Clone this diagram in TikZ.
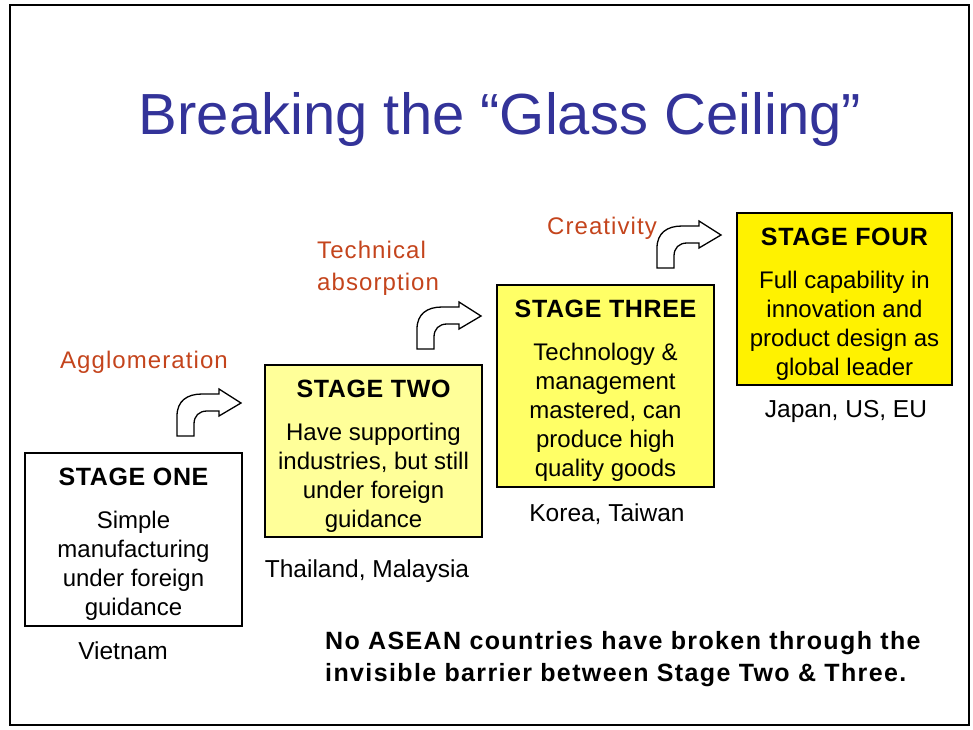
\documentclass[tikz,border=0pt]{standalone}
\usepackage{fontspec}
\setmainfont{Liberation Sans}
\newfontfamily\headsans[LetterSpace=2.5]{Liberation Sans}
\newfontfamily\widesans[LetterSpace=4.5]{Liberation Sans}
\newfontfamily\widersans[LetterSpace=5.5]{Liberation Sans}

\definecolor{titleblue}{HTML}{333399}
\definecolor{labelorange}{HTML}{C4441C}
\definecolor{paleyellow}{HTML}{FFFF99}
\definecolor{midyellow}{HTML}{FFFF66}

\newcommand{\stagehead}[1]{\rule{0pt}{27pt}{\headsans\bfseries\fontsize{25}{29}\selectfont #1}}

\tikzset{
  stagebox/.style={draw, line width=1.3pt, minimum width=217pt, minimum height=#1,
    inner sep=0pt, align=center, font=\fontsize{24}{29}\selectfont},
  steplabel/.style={text=labelorange, inner sep=0pt, align=left, font=\widesans\fontsize{24}{32}\selectfont},
  country/.style={inner sep=0pt, font=\fontsize{24.5}{29}\selectfont},
  turnarrow/.pic={
    \draw[line width=1.3pt, fill=white] (0,0) -- (0,-20) .. controls (0,-35) and (10,-42) .. (25,-42)
      -- (42,-42) -- (42,-47) -- (64,-33) -- (42,-20) -- (42,-25) -- (30,-25)
      .. controls (22,-25) and (17,-20) .. (17,-12) -- (17,0) -- cycle;
  }
}

\begin{document}
\begin{tikzpicture}[x=1pt, y=-1pt]
    \useasboundingbox (0,0) rectangle (973,729);
    \draw[line width=2pt] (10,5) rectangle (969,725);

    % title
    \node[anchor=base, text=titleblue, inner sep=0pt, font=\fontsize{58}{60}\selectfont] (title) at (500,134) {Breaking the “Glass Ceiling”};

    % the four stages
    \node[stagebox=173pt, fill=white] (stageone) at (133.5,539.5)
        {\stagehead{STAGE ONE}\\[14pt]Simple\\manufacturing\\under foreign\\guidance};
    \node[stagebox=172pt, fill=paleyellow] (stagetwo) at (373.5,451)
        {\stagehead{STAGE TWO}\\[14pt]Have supporting\\industries, but still\\under foreign\\guidance};
    \node[stagebox=202pt, fill=midyellow] (stagethree) at (605.5,386)
        {\stagehead{STAGE THREE}\\[14pt]Technology \&\\management\\mastered, can\\produce high\\quality goods};
    \node[stagebox=172pt, fill=yellow, minimum width=215pt] (stagefour) at (844.5,299)
        {\stagehead{STAGE FOUR}\\[14pt]Full capability in\\innovation and\\product design as\\global leader};

    % countries
    \node[country] (vietnam) at (123,651) {Vietnam};
    \node[country] (thaimal) at (367,571) {Thailand, Malaysia};
    \node[country] (kortai) at (607,514) {Korea, Taiwan};
    \node[country] (japus) at (846,411) {Japan, US, EU};

    % steps between stages
    \pic at (177,436) {turnarrow};
    \pic at (417,349) {turnarrow};
    \pic at (657,268) {turnarrow};
    \node[steplabel] (agglo) at (144,362) {Agglomeration};
    \node[steplabel, anchor=west] (techabs) at (317,268) {Technical\\absorption};
    \node[steplabel] (creat) at (602,228) {Creativity};

    \node[anchor=west, align=left, inner sep=0pt, font=\widersans\bfseries\fontsize{25}{32}\selectfont] (note) at (325,659)
        {No ASEAN countries have broken through the\\invisible barrier between Stage Two \& Three.};
\end{tikzpicture}
\end{document}
